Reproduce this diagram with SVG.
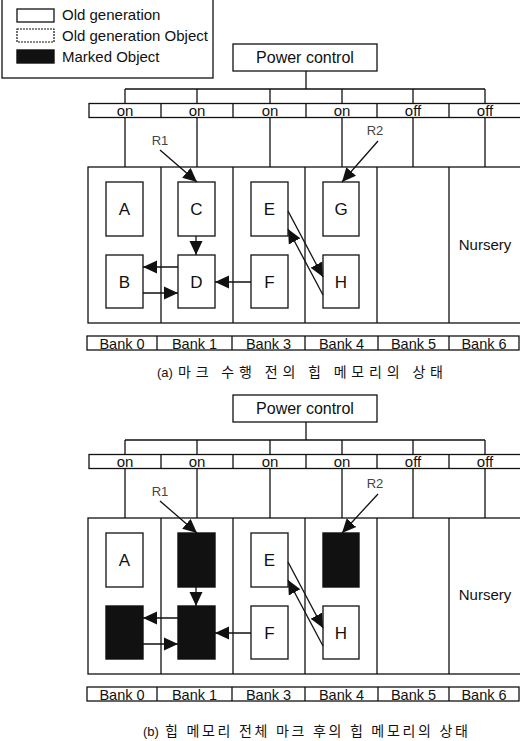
<svg xmlns="http://www.w3.org/2000/svg" width="520" height="741" viewBox="0 0 520 741">
<style>
text{font-family:"Liberation Sans",Arial,sans-serif;fill:#111}
.ln{stroke:#111;stroke-width:1.3;fill:none}
.box{fill:#fff;stroke:#111;stroke-width:1.3}
.obj{fill:#fff;stroke:#222;stroke-width:1.4}
.mk{fill:#111;stroke:#111;stroke-width:1.4}
.big{font-size:16px;text-anchor:middle}
.sw{font-size:15px;text-anchor:middle}
.bk{font-size:14.5px;text-anchor:middle}
.let{font-size:17px;text-anchor:middle}
.leg{font-size:15px}
.ref{font-size:13px;fill:#444;text-anchor:middle}
.cap{font-family:"Liberation Sans","Noto Sans CJK KR",sans-serif;font-size:13px}
.ko{font-family:"Noto Sans CJK KR",sans-serif;font-size:14px}
.ar{stroke:#111;stroke-width:1.3;fill:none;marker-end:url(#ah)}
</style>
<defs>
<marker id="ah" markerUnits="userSpaceOnUse" viewBox="0 0 14 14" markerWidth="14" markerHeight="14" refX="14" refY="7" orient="auto">
<path d="M0,0.5 L14,7 L0,13.5 z" fill="#111"/>
</marker>
</defs>
<rect width="520" height="741" fill="#fff"/>

<g id="legend">
<rect x="2" y="-2" width="211" height="80" class="box"/>
<rect x="17" y="9" width="37" height="13" class="box"/>
<text x="62" y="20" class="leg">Old generation</text>
<rect x="17" y="29" width="37" height="13" fill="#fff" stroke="#111" stroke-width="1.2" stroke-dasharray="2 1"/>
<text x="62" y="41" class="leg">Old generation Object</text>
<rect x="17" y="50" width="37" height="13" class="mk"/>
<text x="62" y="62" class="leg">Marked Object</text>
</g>

<!-- Panel (a) -->
<g id="a-power"><rect x="233" y="44" width="144" height="27" class="box"/><text x="305" y="63" class="big">Power control</text></g>
<g id="a-switches">
<rect x="89" y="103.5" width="433" height="14" class="box"/>
<path class="ln" d="M161,103.5V117.5 M233,103.5V117.5 M306,103.5V117.5 M377,103.5V117.5 M449,103.5V117.5"/>
<text x="125" y="116" class="sw">on</text><text x="197" y="116" class="sw">on</text><text x="270" y="116" class="sw">on</text><text x="342" y="116" class="sw">on</text><text x="413" y="116" class="sw">off</text><text x="485" y="116" class="sw">off</text>
</g>
<g id="a-banks">
<rect x="88" y="167" width="434" height="156" class="box"/>
<path class="ln" d="M161,167V323 M233,167V323 M305,167V323 M377,167V323 M449,167V323"/>
<text x="485" y="250" class="sw">Nursery</text>
</g>
<text x="160" y="145" class="ref">R1</text>
<text x="375" y="135" class="ref">R2</text>
<g id="a-A"><rect x="106" y="182" width="37" height="54" class="obj"/><text x="124.5" y="215" class="let">A</text></g>
<g id="a-B"><rect x="106" y="255" width="37" height="53" class="obj"/><text x="124.5" y="288" class="let">B</text></g>
<g id="a-C"><rect x="178" y="182" width="37" height="54" class="obj"/><text x="196.5" y="215" class="let">C</text></g>
<g id="a-D"><rect x="178" y="255" width="37" height="53" class="obj"/><text x="196.5" y="288" class="let">D</text></g>
<g id="a-E"><rect x="251" y="182" width="37" height="54" class="obj"/><text x="269.5" y="215" class="let">E</text></g>
<g id="a-F"><rect x="251" y="255" width="37" height="53" class="obj"/><text x="269.5" y="288" class="let">F</text></g>
<g id="a-G"><rect x="323" y="182" width="36" height="54" class="obj"/><text x="341" y="215" class="let">G</text></g>
<g id="a-H"><rect x="323" y="255" width="36" height="53" class="obj"/><text x="341" y="288" class="let">H</text></g>
<g id="a-connectors">
<path class="ln" d="M306,71V89 M125,89H485 M125,89V103.5 M197,89V103.5 M270,89V103.5 M342,89V103.5 M413,89V103.5 M485,89V103.5"/>
<path class="ln" d="M125,117.5V167 M197,117.5V167 M270,117.5V167 M342,117.5V167 M413,117.5V167 M485,117.5V167"/>
<line x1="160" y1="150" x2="197" y2="182" class="ar"/>
<line x1="378" y1="141" x2="342" y2="182" class="ar"/>
<line x1="196" y1="236" x2="196" y2="255" class="ar"/>
<line x1="178" y1="267" x2="143" y2="267" class="ar"/>
<line x1="143" y1="293" x2="178" y2="293" class="ar"/>
<line x1="251" y1="282" x2="215" y2="282" class="ar"/>
<line x1="288" y1="211" x2="323" y2="277" class="ar"/>
<line x1="323" y1="295" x2="288" y2="229" class="ar"/>
</g>
<g id="a-labels">
<rect x="87" y="336" width="432" height="14" class="box"/>
<path class="ln" d="M157,336V350 M232,336V350 M305,336V350 M378,336V350 M449,336V350"/>
<text x="122" y="348.5" class="bk">Bank 0</text><text x="194.5" y="348.5" class="bk">Bank 1</text><text x="268.5" y="348.5" class="bk">Bank 3</text><text x="341.5" y="348.5" class="bk">Bank 4</text><text x="413.5" y="348.5" class="bk">Bank 5</text><text x="484" y="348.5" class="bk">Bank 6</text>
</g>
<text y="377" class="cap"><tspan x="157">(a)</tspan><tspan x="178" class="ko" textLength="265" lengthAdjust="spacing">마크 수행 전의 힙 메모리의 상태</tspan></text>

<!-- Panel (b) -->
<g id="b-power"><rect x="233" y="395" width="144" height="27" class="box"/><text x="305" y="414" class="big">Power control</text></g>
<g id="b-switches">
<rect x="89" y="454.5" width="433" height="14" class="box"/>
<path class="ln" d="M161,454.5V468.5 M233,454.5V468.5 M306,454.5V468.5 M377,454.5V468.5 M449,454.5V468.5"/>
<text x="125" y="467" class="sw">on</text><text x="197" y="467" class="sw">on</text><text x="270" y="467" class="sw">on</text><text x="342" y="467" class="sw">on</text><text x="413" y="467" class="sw">off</text><text x="485" y="467" class="sw">off</text>
</g>
<g id="b-banks">
<rect x="88" y="518" width="434" height="156" class="box"/>
<path class="ln" d="M161,518V674 M233,518V674 M305,518V674 M377,518V674 M449,518V674"/>
<text x="485" y="600" class="sw">Nursery</text>
</g>
<text x="160" y="496" class="ref">R1</text>
<text x="375" y="488" class="ref">R2</text>
<g id="b-A"><rect x="106" y="533" width="37" height="54" class="obj"/><text x="124.5" y="566" class="let">A</text></g>
<g id="b-B"><rect x="106" y="606" width="37" height="53" class="mk"/></g>
<g id="b-C"><rect x="178" y="533" width="37" height="54" class="mk"/></g>
<g id="b-D"><rect x="178" y="606" width="37" height="53" class="mk"/></g>
<g id="b-E"><rect x="251" y="533" width="37" height="54" class="obj"/><text x="269.5" y="566" class="let">E</text></g>
<g id="b-F"><rect x="251" y="606" width="37" height="53" class="obj"/><text x="269.5" y="639" class="let">F</text></g>
<g id="b-G"><rect x="323" y="533" width="36" height="54" class="mk"/></g>
<g id="b-H"><rect x="323" y="606" width="36" height="53" class="obj"/><text x="341" y="639" class="let">H</text></g>
<g id="b-connectors">
<path class="ln" d="M306,422V440 M125,440H485 M125,440V454.5 M197,440V454.5 M270,440V454.5 M342,440V454.5 M413,440V454.5 M485,440V454.5"/>
<path class="ln" d="M125,468.5V518 M197,468.5V518 M270,468.5V518 M342,468.5V518 M413,468.5V518 M485,468.5V518"/>
<line x1="160" y1="501" x2="197" y2="533" class="ar"/>
<line x1="378" y1="494" x2="342" y2="533" class="ar"/>
<line x1="196" y1="587" x2="196" y2="606" class="ar"/>
<line x1="178" y1="618" x2="143" y2="618" class="ar"/>
<line x1="143" y1="644" x2="178" y2="644" class="ar"/>
<line x1="251" y1="633" x2="215" y2="633" class="ar"/>
<line x1="288" y1="562" x2="323" y2="628" class="ar"/>
<line x1="323" y1="646" x2="288" y2="580" class="ar"/>
</g>
<g id="b-labels">
<rect x="87" y="687" width="432" height="14" class="box"/>
<path class="ln" d="M157,687V701 M232,687V701 M305,687V701 M378,687V701 M449,687V701"/>
<text x="122" y="699.5" class="bk">Bank 0</text><text x="194.5" y="699.5" class="bk">Bank 1</text><text x="268.5" y="699.5" class="bk">Bank 3</text><text x="341.5" y="699.5" class="bk">Bank 4</text><text x="413.5" y="699.5" class="bk">Bank 5</text><text x="484" y="699.5" class="bk">Bank 6</text>
</g>
<text y="736" class="cap"><tspan x="143">(b)</tspan><tspan x="165" class="ko" textLength="303" lengthAdjust="spacing">힙 메모리 전체 마크 후의 힙 메모리의 상태</tspan></text>
</svg>
